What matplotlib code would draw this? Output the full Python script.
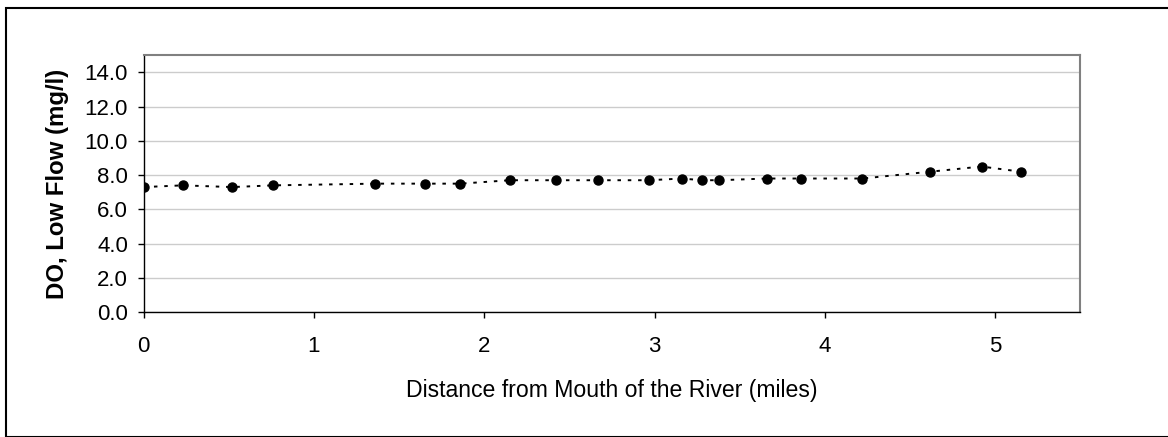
import matplotlib
matplotlib.use("Agg")
import matplotlib.pyplot as plt
from matplotlib.patches import Rectangle

plt.rcParams['font.family'] = ['Liberation Sans', 'DejaVu Sans']

# distance from mouth (miles) and DO at low flow (mg/l)
distance = [0.0, 0.23, 0.52, 0.76, 1.36, 1.65, 1.86, 2.15, 2.42, 2.67,
            2.97, 3.16, 3.28, 3.38, 3.66, 3.86, 4.22, 4.62, 4.92, 5.15]
do_low = [7.3, 7.4, 7.3, 7.4, 7.5, 7.5, 7.5, 7.7, 7.7, 7.7,
          7.7, 7.8, 7.7, 7.7, 7.8, 7.8, 7.8, 8.2, 8.5, 8.2]
yticks = [0, 2, 4, 6, 8, 10, 12, 14]
xticks = [0, 1, 2, 3, 4, 5]

fig = plt.figure(figsize=(11.68, 4.37), dpi=100)
ax = fig.add_axes([0.123, 0.286, 0.8019, 0.5875])

ax.plot(distance, do_low, color='black', linestyle=(0, (1.8, 3.5)), linewidth=1.4,
        marker='o', markersize=6.5, zorder=3)

ax.set_xlim(0, 5.5)
ax.set_ylim(0, 15)
ax.set_yticks(yticks)
ax.set_yticklabels([f"{v:.1f}" for v in yticks])
ax.set_xticks(xticks)
ax.grid(axis='y', color='#cccccc', linewidth=1)
ax.set_axisbelow(True)

for s in ['top', 'right']:
    ax.spines[s].set_color('#808080')
    ax.spines[s].set_linewidth(1.5)
for s in ['left', 'bottom']:
    ax.spines[s].set_color('black')
    ax.spines[s].set_linewidth(1)

ax.tick_params(axis='both', direction='out', length=4.3, width=1, labelsize=16, colors='black')
ax.tick_params(axis='x', pad=13)
ax.tick_params(axis='y', pad=7)

ax.set_ylabel('DO, Low Flow (mg/l)', fontsize=17.3, fontweight='bold', labelpad=11)
ax.set_xlabel('Distance from Mouth of the River (miles)', fontsize=16.6, labelpad=16)

# outer chart border
fig.patches.append(Rectangle((5.5 / 1168, 0.0), 1.0, 1 - 7.5 / 437,
                             transform=fig.transFigure, fill=False,
                             edgecolor='black', linewidth=1.5))

fig.savefig('out.png', dpi=100)
